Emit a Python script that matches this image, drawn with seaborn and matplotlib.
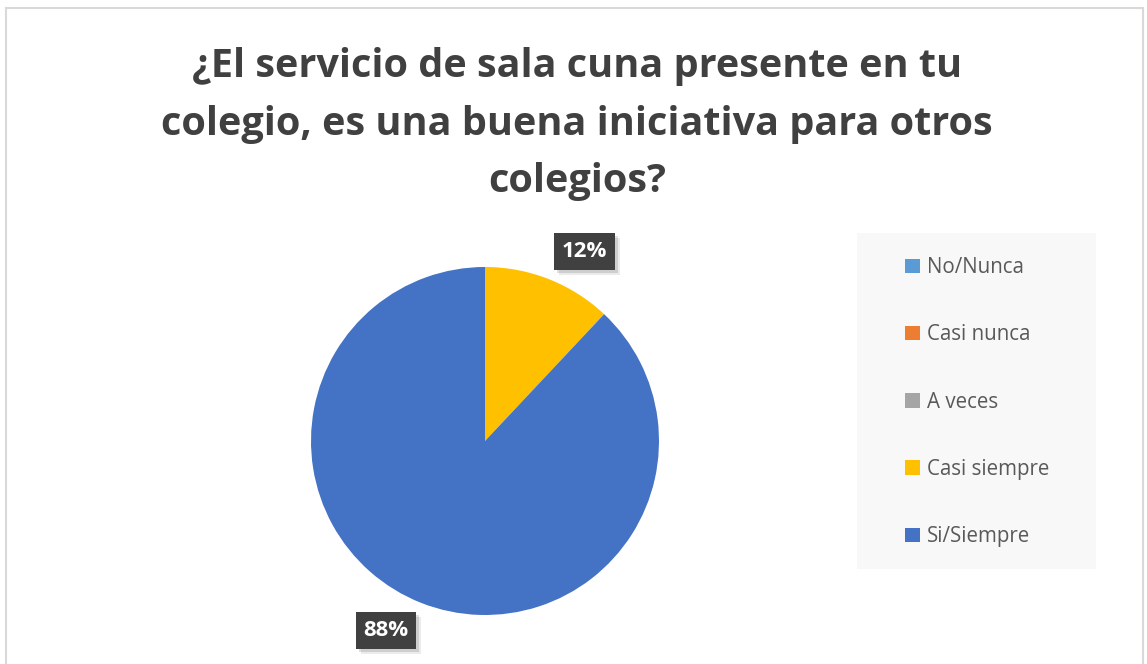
import numpy as np
import matplotlib
matplotlib.use('Agg')
import matplotlib.pyplot as plt
import matplotlib.transforms as mtransforms
from matplotlib.patches import Rectangle, Patch
import seaborn as sns

# data
categories = ["No/Nunca", "Casi nunca", "A veces", "Casi siempre", "Si/Siempre"]
percents   = [0, 0, 0, 12, 88]
colors     = ["#5B9BD5", "#ED7D31", "#A5A5A5", "#FFC000", "#4472C4"]
title_txt  = "¿El servicio de sala cuna presente en tu\ncolegio, es una buena iniciativa para otros\ncolegios?"

sns.set_theme(style="white")
plt.rcParams['font.family'] = ['Open Sans', 'DejaVu Sans']

W, H = 1147, 664
fig = plt.figure(figsize=(W / 100, H / 100), dpi=100)
fig.patch.set_facecolor("white")

# outer chart border
fig.patches.append(Rectangle((6 / W, -0.05), (1143 - 6) / W, 1.05 - 8 / H,
                             transform=fig.transFigure, fill=False,
                             edgecolor="#D9D9D9", lw=1.5))

# pie axes placed in pixels: centre (485, 441), radius 174
cx, cy, R, k = 485, 441, 174, 1.35
side = 2 * R * k
ax = fig.add_axes([(cx - side / 2) / W, (H - cy - side / 2) / H, side / W, side / H])

vals = [v for v in percents if v > 0]
cols = [c for v, c in zip(percents, colors) if v > 0]
wedges, _ = ax.pie(vals, colors=cols, startangle=90, counterclock=False,
                   radius=1.0, wedgeprops=dict(linewidth=0))
ax.set_xlim(-k, k)
ax.set_ylim(-k, k)
ax.axis("off")

# data labels in dark boxes with a soft shadow (best-fit: a bit clockwise of mid-angle)
for w, v in zip(wedges, vals):
    ang = np.deg2rad((w.theta1 + w.theta2) / 2 - 6)
    x, y = 1.23 * np.cos(ang), 1.23 * np.sin(ang)
    for off, a in [(3, 0.12), (5, 0.08)]:
        shadow_tr = mtransforms.offset_copy(ax.transData, fig=fig, x=off, y=-off, units='dots')
        ax.text(x, y, "%d%%" % v, transform=shadow_tr, ha="center", va="center",
                fontsize=16, fontweight="bold", color="none",
                bbox=dict(boxstyle="square,pad=0.35", fc="black", ec="none", alpha=a))
    ax.text(x, y, "%d%%" % v, ha="center", va="center", fontsize=16,
            fontweight="bold", color="white",
            bbox=dict(boxstyle="square,pad=0.35", fc="#404040", ec="none"))

# title
fig.text(577 / W, 1 - 124 / H, title_txt, ha="center", va="center",
         fontsize=28.5, fontweight="bold", color="#404040", linespacing=1.63)

# legend panel
fig.patches.append(Rectangle((857 / W, 1 - 569 / H), (1096 - 857) / W, (569 - 233) / H,
                             transform=fig.transFigure, facecolor="#F8F8F8",
                             edgecolor="none", zorder=0))
handles = [Patch(facecolor=c, edgecolor="none", label=l) for c, l in zip(colors, categories)]
leg = fig.legend(handles=handles, loc="center left", bbox_to_anchor=(895 / W, 1 - 402 / H),
                 frameon=False, fontsize=14.8, labelspacing=2.25, handlelength=0.7,
                 handleheight=0.7, handletextpad=0.35, borderpad=0)
for t in leg.get_texts():
    t.set_color("#595959")

fig.savefig("out.png", dpi=100)
